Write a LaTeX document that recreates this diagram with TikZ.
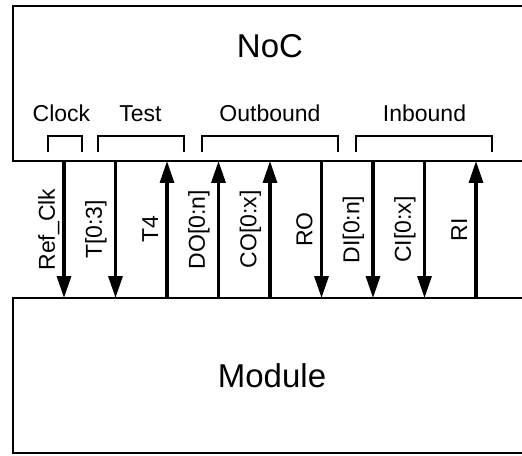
\documentclass[tikz,border=0pt]{standalone}
\usepackage{fontspec}
\setmainfont{Liberation Sans}
\usetikzlibrary{arrows.meta,positioning,calc}
\tikzset{
  % open block: its right side runs past the page edge
  box/.style   = {rectangle, draw, line width=1pt, outer sep=0pt, inner sep=0pt,
                  minimum width=259pt, minimum height=77.5pt,
                  font=\fontsize{16.5}{20}\selectfont},
  title/.style = {inner sep=0pt, font=\fontsize{16.5}{20}\selectfont},
  tag/.style   = {inner sep=0pt, anchor=base, font=\fontsize{11.5}{14}\selectfont},
  brace/.style = {line width=0.6pt},
  arr/.style   = {line width=1.6pt},
  dn/.style    = {-{Triangle[length=11pt,width=7pt]}},
  up/.style    = {{Triangle[length=11pt,width=7pt]}-},
  lbl/.style   = {rotate=90, anchor=south, inner xsep=0pt, inner ysep=3.65pt,
                  font=\fontsize{11.5}{14}\selectfont},
}

\begin{document}
\begin{tikzpicture}[x=0.5pt,y=0.5pt]
\useasboundingbox (0,0) rectangle (522,455);

% ---- blocks ---------------------------------------------------------
\node[box] (noc) at (272,371.5) {};
\node[title] (noc-name) at (270,408.5) {NoC};
\node[box] (module) at (272,79.5) {Module};

% ---- groups ---------------------------------------------------------
\foreach \a/\b/\c/\txt in {48/82/61.5/Clock, 98/184/140.5/Test,
                           202/338/270/Outbound, 356/492/424.5/Inbound} {
  \draw[brace] (\a,303) |- (\b,319) -- (\b,303);
  \node[tag] (grp-\txt) at (\c,333) {\txt};
}

% ---- signals --------------------------------------------------------
\foreach \name/\x/\dir/\txt in {clk/64/dn/Ref\smash{\_}Clk, t/115.5/dn/T[0:3],
                                tf/167/up/T4, do/218.5/up/DO[0:n],
                                co/270/up/CO[0:x], ro/321.5/dn/RO,
                                di/373/dn/DI[0:n], ci/424.5/dn/CI[0:x],
                                ri/476/up/RI} {
  \coordinate (\name-t) at (\x,294);
  \coordinate (\name-b) at (\x,157);
  \draw[arr, \dir] (\name-t) -- node[lbl] {\txt} (\name-b);
}
\end{tikzpicture}
\end{document}
